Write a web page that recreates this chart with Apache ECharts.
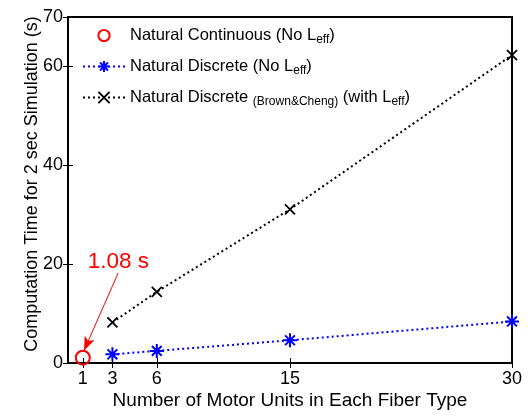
<!DOCTYPE html>
<html><head><meta charset="utf-8">
<script src="https://cdn.jsdelivr.net/npm/echarts@6/dist/echarts.min.js"></script>
<style>html,body{margin:0;padding:0;background:#fff}#c{width:528px;height:416px}</style>
</head><body><div id="c"></div>
<script>
// Data
const contX = [1];
const contY = [1.08];
const discX = [3, 6, 15, 30];
const discY = [1.76, 2.45, 4.6, 8.4];
const bcX = [3, 6, 15, 30];
const bcY = [8.2, 14.4, 31.1, 62.3];
const xTicks = [1, 3, 6, 15, 30];
const yTicks = [0, 20, 40, 60, 70];
const annText = '1.08 s';
const annTextAt = [3.4, 20.4];
const annArrowFrom = [3.39, 18.2];
const annArrowTo = [1.08, 2.5];

const FONT = 'Liberation Sans, Arial, Helvetica, sans-serif';
const pair = (xs, ys) => xs.map((x, i) => [x, ys[i]]);
const asterisk = 'path://M0,-10L0,10M-10,0L10,0M-7,-7L7,7M-7,7L7,-7';
const cross = 'path://M-10,-10L10,10M-10,10L10,-10';

const chart = echarts.init(document.getElementById('c'));
const rich = {
  b: {fontSize: 16.5, fontFamily: FONT, color: '#000'},
  s: {fontSize: 12, fontFamily: FONT, color: '#000', padding: [9, 0, 0, 0]}
};
const names = ['Natural Continuous (No Leff)', 'Natural Discrete (No Leff)', 'Natural Discrete BC (with Leff)'];
const labels = {
  'Natural Continuous (No Leff)': '{b|Natural Continuous (No L}{s|eff}{b|)}',
  'Natural Discrete (No Leff)': '{b|Natural Discrete (No L}{s|eff}{b|)}',
  'Natural Discrete BC (with Leff)': '{b|Natural Discrete }{s|(Brown&Cheng)}{b| (with L}{s|eff}{b|)}'
};
const tickStyle = {show: true, inside: true, length: 5, lineStyle: {color: '#000', width: 1}};
chart.setOption({
  animation: false,
  backgroundColor: '#fff',
  textStyle: {fontFamily: FONT},
  grid: {left: 68, right: 16, top: 17, bottom: 53, show: true, borderColor: '#000', borderWidth: 2},
  legend: {
    data: names, left: 77, top: 22, orient: 'vertical', itemWidth: 42, itemHeight: 14, itemGap: 12,
    selectedMode: false,
    formatter: n => labels[n],
    textStyle: {rich: rich, fontSize: 16.5, color: '#000'}
  },
  xAxis: [{
    type: 'value', min: 0, max: 30, position: 'bottom',
    name: 'Number of Motor Units in Each Fiber Type', nameLocation: 'middle', nameGap: 28,
    nameMoveOverlap: false,
    nameTextStyle: {fontSize: 19, color: '#000', fontFamily: FONT},
    axisLine: {show: true, onZero: false, lineStyle: {color: '#000', width: 2}},
    axisTick: Object.assign({customValues: xTicks}, tickStyle),
    axisLabel: {customValues: xTicks, fontSize: 18, color: '#000', margin: 7, fontFamily: FONT},
    splitLine: {show: false}
  }, {
    type: 'value', min: 0, max: 30, position: 'top',
    axisLine: {show: false},
    axisTick: Object.assign({customValues: xTicks}, tickStyle),
    axisLabel: {show: false}, splitLine: {show: false}
  }],
  yAxis: [{
    type: 'value', min: 0, max: 70, position: 'left',
    name: 'Computation Time for 2 sec Simulation (s)', nameLocation: 'middle', nameGap: 27,
    nameMoveOverlap: false,
    nameTextStyle: {fontSize: 18, color: '#000', fontFamily: FONT, padding: [0, 0, 0, 12]},
    axisLine: {show: true, onZero: false, lineStyle: {color: '#000', width: 2}},
    axisTick: Object.assign({customValues: yTicks}, tickStyle),
    axisLabel: {customValues: yTicks, fontSize: 18, color: '#000', margin: 5, fontFamily: FONT},
    splitLine: {show: false}
  }, {
    type: 'value', min: 0, max: 70, position: 'right',
    axisLine: {show: false},
    axisTick: Object.assign({customValues: yTicks}, tickStyle),
    axisLabel: {show: false}, splitLine: {show: false}
  }],
  series: [{
    name: names[0], type: 'line', data: pair(contX, contY),
    symbol: 'circle', symbolSize: 14,
    itemStyle: {color: 'rgba(255,255,255,0)', borderColor: '#ff0000', borderWidth: 2},
    lineStyle: {width: 0, opacity: 0},
    markLine: {
      silent: true, symbol: ['none', 'arrow'], symbolSize: [8, 14],
      lineStyle: {color: '#ff0000', type: 'solid', width: 1},
      label: {show: false},
      data: [[{coord: annArrowFrom}, {coord: annArrowTo}]]
    },
    markPoint: {
      silent: true, symbol: 'circle', symbolSize: 0,
      label: {show: true, formatter: annText, fontSize: 22.5, color: '#ff0000', fontFamily: FONT},
      data: [{coord: annTextAt}]
    },
    z: 5
  }, {
    name: names[1], type: 'line', data: pair(discX, discY),
    symbol: asterisk, symbolSize: 14,
    itemStyle: {color: '#0000ff', borderColor: '#0000ff', borderWidth: 2},
    lineStyle: {color: '#0000ff', type: [2, 3], width: 2}
  }, {
    name: names[2], type: 'line', data: pair(bcX, bcY),
    symbol: cross, symbolSize: 10,
    itemStyle: {color: '#000', borderColor: '#000', borderWidth: 1.8},
    lineStyle: {color: '#000', type: [2, 3], width: 2}
  }]
});
</script></body></html>
